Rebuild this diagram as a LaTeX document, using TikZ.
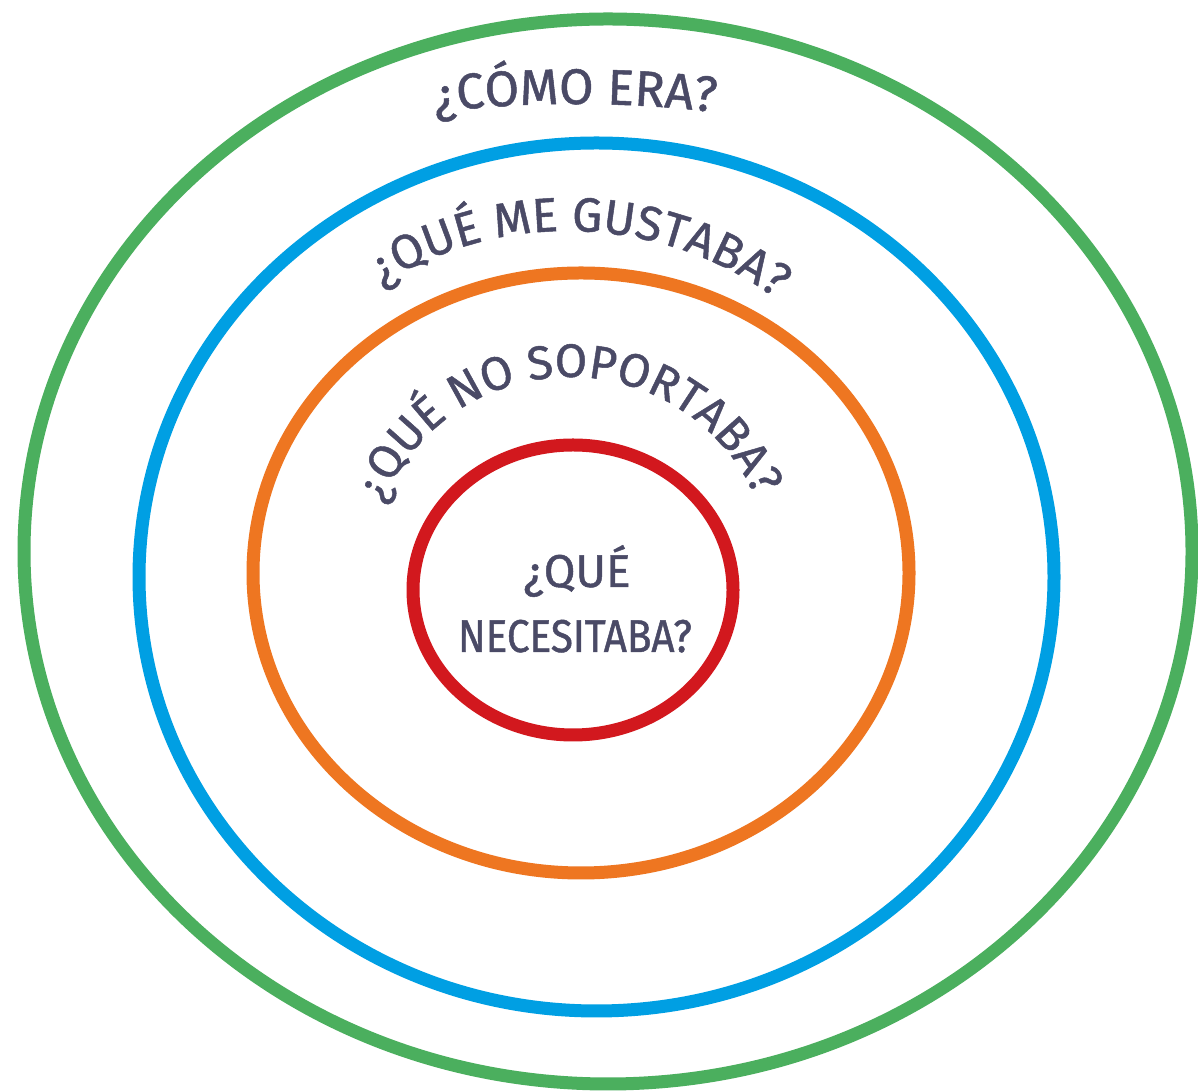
\documentclass[tikz,border=0pt]{standalone}
\usepackage{fontspec}
\newfontfamily\hand[FakeBold=1]{Fira Sans}
\newfontfamily\handn[FakeStretch=0.88,FakeBold=1]{Fira Sans}
\usetikzlibrary{decorations.text}
\definecolor{cgreen}{HTML}{4BAF5E}
\definecolor{cblue}{HTML}{009FE3}
\definecolor{corange}{HTML}{EE7621}
\definecolor{cred}{HTML}{D2181E}
\definecolor{ctext}{HTML}{4A4A66}
\begin{document}
\begin{tikzpicture}[x=1pt,y=1pt,
  ring/.style={line width=13pt},
  lbl/.style={text=ctext, inner sep=0pt, anchor=base}]
\useasboundingbox (0,0) rectangle (1198,1091);
\fill[white] (0,0) rectangle (1198,1091);
% rings
\draw[ring, cgreen]  (608,539.5) ellipse [x radius=584, y radius=532.5];
\draw[ring, cblue]   (596.5,514) ellipse [x radius=457.5, y radius=434];
\draw[ring, corange] (581,518) ellipse [x radius=328, y radius=300];
\draw[ring, cred]    (573,501) ellipse [x radius=160, y radius=145];
% arc texts
\path[decorate, decoration={text along path, text align=center,
  text={|\hand\fontsize{50}{50}\selectfont\color{ctext}|¿CÓMO ERA?}}]
  (575,-213) ++(100:1200) arc[start angle=100, end angle=80, radius=1200];
\path[decorate, decoration={text along path, text align=center,
  text={|\hand\fontsize{48}{48}\selectfont\color{ctext}|¿QUÉ ME GUSTABA?}}]
  (568,507) ++(128:353) arc[start angle=128, end angle=48, radius=353];
\path[decorate, decoration={text along path, text align=center,
  text={|\hand\fontsize{47}{47}\selectfont\color{ctext}|¿QUÉ NO SOPORTABA?}}]
  (570,511) ++(167:203) arc[start angle=167, end angle=15, radius=203];
% centre text
\node[lbl, font=\hand\fontsize{46}{46}\selectfont] (q4a) at (577,504) {¿QUÉ};
\node[lbl, font=\handn\fontsize{46}{46}\selectfont] (q4b) at (575,439) {NECESITABA?};
\end{tikzpicture}
\end{document}
